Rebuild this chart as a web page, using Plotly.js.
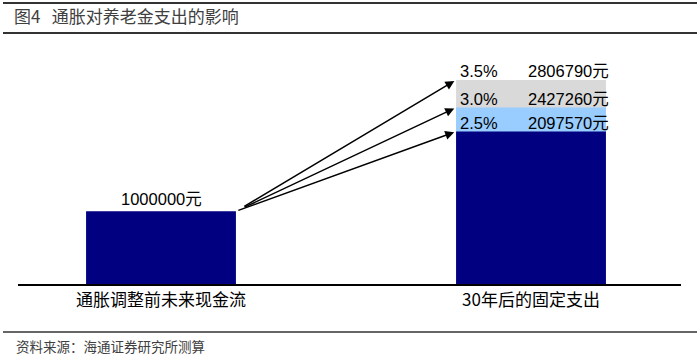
<!DOCTYPE html>
<html>
<head>
<meta charset="utf-8">
<script src="https://cdn.plot.ly/plotly-3.0.1.min.js"></script>
<style>html,body{margin:0;padding:0;background:#fff;}#chart{width:700px;height:356px;}</style>
</head>
<body>
<div id="chart"></div>
<script>
// ---- data ----
const categories = ["通胀调整前未来现金流", "30年后的固定支出"];
const baseValues = [1000000, 2097570];     // navy bars (before inflation, 2.5% case)
const rates = ["2.5%", "3.0%", "3.5%"];
const futureValues = [2097570, 2427260, 2806790];
const unit = "元";
const titleText = "图4\u00a0\u00a0 通胀对养老金支出的影响";
const sourceText = "资料来源：海通证券研究所测算";

// ---- layout constants ----
const W = 700, H = 356;
const M = {l: 18, r: 19, t: 60, b: 72};
const plotW = W - M.l - M.r, plotH = H - M.t - M.b;
const pxX = p => (p - M.l) / plotW;          // pixel -> paper x
const pxY = p => (H - M.b - p) / plotH;      // pixel -> paper y
const bw = 0.405;
const latin = "Liberation Sans, Arial, Noto Sans CJK SC, sans-serif";
const cjk = "Noto Sans CJK SC, sans-serif";
const colors = {navy: "#000080", blue: "#99CCFF", gray: "#D9D9D9"};

const traces = [
  {type: "bar", x: [1], y: [futureValues[2]], width: bw, marker: {color: colors.gray}, hoverinfo: "none"},
  {type: "bar", x: [1], y: [futureValues[1]], width: bw, marker: {color: colors.blue}, hoverinfo: "none"},
  {type: "bar", x: [0, 1], y: baseValues, width: bw, marker: {color: colors.navy}, hoverinfo: "none"}
];

const annotations = [];
// left value label
annotations.push({x: 0, y: baseValues[0], xref: "x", yref: "y", text: baseValues[0] + unit,
  showarrow: false, yanchor: "bottom", yshift: 1, font: {family: latin, size: 16.5, color: "#000"}});
// right labels + arrows
futureValues.forEach((v, i) => {
  annotations.push({x: 1 - bw / 2, y: v, xref: "x", yref: "y", text: rates[i], showarrow: false,
    xanchor: "left", yanchor: "bottom", xshift: 2, yshift: -2, font: {family: latin, size: 16.5, color: "#000"}});
  annotations.push({x: 1 + bw / 2, y: v, xref: "x", yref: "y", text: v + unit, showarrow: false,
    xanchor: "right", yanchor: "bottom", xshift: 5, yshift: -2, font: {family: latin, size: 16.5, color: "#000"}});
  annotations.push({x: 1 - bw / 2, y: v, xref: "x", yref: "y", axref: "x", ayref: "y",
    ax: bw / 2, ay: baseValues[0], text: "", showarrow: true, arrowhead: 2, arrowsize: 1.2,
    arrowwidth: 1.5, arrowcolor: "#000", standoff: 2, startstandoff: i === 0 ? 1 : 8});
});
// source
annotations.push({xref: "paper", yref: "paper", x: pxX(14), y: pxY(346), xanchor: "left", yanchor: "middle",
  text: sourceText, showarrow: false, font: {family: cjk, size: 13.5, color: "#404040"}});

const line = (y, w) => ({type: "line", xref: "paper", yref: "paper", x0: pxX(3), x1: pxX(697),
  y0: pxY(y), y1: pxY(y), line: {color: "#333", width: w}});

const layout = {
  width: W, height: H,
  margin: M,
  paper_bgcolor: "#fff", plot_bgcolor: "#fff",
  barmode: "overlay",
  showlegend: false,
  title: {text: titleText, xref: "container", yref: "container", x: 14 / W, xanchor: "left",
    y: 1 - 17 / H, yanchor: "middle", font: {family: cjk, size: 17, color: "#404040"}},
  xaxis: {type: "linear", range: [(M.l - 161) / 370, (W - M.r - 161) / 370], tickvals: [0, 1], ticktext: categories,
    showgrid: false, zeroline: false, showline: true, linecolor: "#000", linewidth: 2, ticks: "",
    tickfont: {family: cjk, size: 17, color: "#000"}},
  yaxis: {range: [0, 3081000], visible: false, showgrid: false, zeroline: false, fixedrange: true},
  annotations: annotations,
  shapes: [line(3, 2), line(33, 2), line(332, 1.5)]
};

Plotly.newPlot("chart", traces, layout, {staticPlot: true, displayModeBar: false});
</script>
</body>
</html>
